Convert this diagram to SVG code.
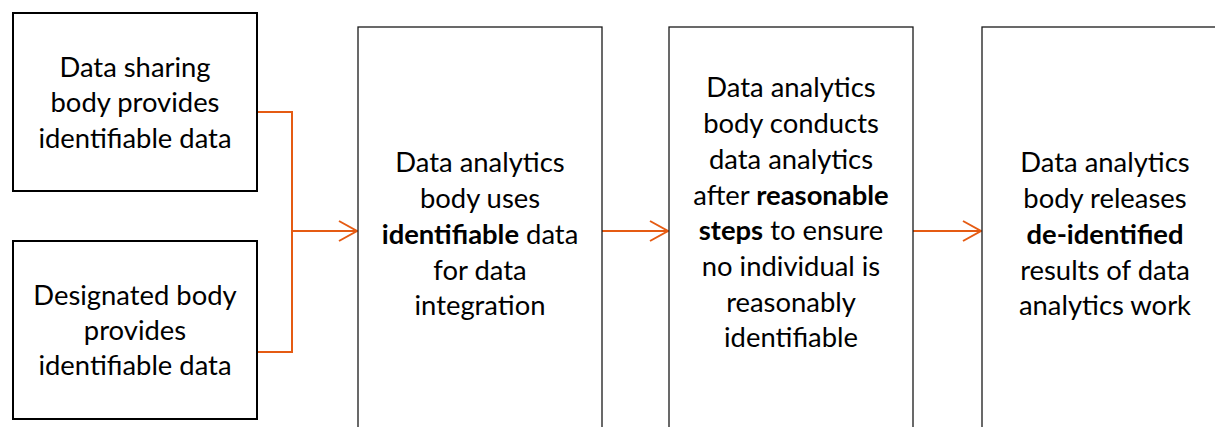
<svg xmlns="http://www.w3.org/2000/svg" width="1215" height="427" viewBox="0 0 1215 427">
<defs>
<style>
.box1{fill:#fff;stroke:#000;stroke-width:2}
.box2{fill:#fff;stroke:#1a1a1a;stroke-width:1.3}
.t{font-family:Lato,"Open Sans",sans-serif;font-size:27.4px;fill:#000;text-anchor:middle}
.b{font-weight:bold}
.c{fill:none;stroke:#E55B13;stroke-width:2}
</style>
<marker id="arr" markerWidth="22" markerHeight="24" refX="19" refY="11" orient="auto" markerUnits="userSpaceOnUse">
<path d="M1,1 L19,11 L1,21" fill="none" stroke="#E55B13" stroke-width="2"/>
</marker>
</defs>
<g id="connectors">
<path class="c" d="M258,112 H292 V352 H258"/>
<path class="c" d="M292,231 H357" marker-end="url(#arr)"/>
<path class="c" d="M602,231 H668" marker-end="url(#arr)"/>
<path class="c" d="M913,231 H981" marker-end="url(#arr)"/>
</g>
<g id="n1">
<rect class="box1" x="13" y="13" width="244" height="178"/>
<text class="t" x="135" y="77">Data sharing</text>
<text class="t" x="135" y="112">body provides</text>
<text class="t" x="135" y="148">identifiable data</text>
</g>
<g id="n2">
<rect class="box1" x="13" y="241" width="244" height="178"/>
<text class="t" x="135" y="305">Designated body</text>
<text class="t" x="135" y="340">provides</text>
<text class="t" x="135" y="375">identifiable data</text>
</g>
<g id="n3">
<rect class="box2" x="358" y="27" width="244" height="410"/>
<text class="t" x="480" y="172">Data analytics</text>
<text class="t" x="480" y="208">body uses</text>
<text class="t" x="480" y="244"><tspan class="b">identifiable</tspan> data</text>
<text class="t" x="480" y="280">for data</text>
<text class="t" x="480" y="315">integration</text>
</g>
<g id="n4">
<rect class="box2" x="669" y="27" width="244" height="410"/>
<text class="t" x="791" y="97">Data analytics</text>
<text class="t" x="791" y="133">body conducts</text>
<text class="t" x="791" y="169">data analytics</text>
<text class="t" x="791" y="205">after <tspan class="b">reasonable</tspan></text>
<text class="t" x="791" y="240"><tspan class="b">steps</tspan> to ensure</text>
<text class="t" x="791" y="276">no individual is</text>
<text class="t" x="791" y="312">reasonably</text>
<text class="t" x="791" y="347">identifiable</text>
</g>
<g id="n5">
<rect class="box2" x="982" y="27" width="250" height="410"/>
<text class="t" x="1105" y="172">Data analytics</text>
<text class="t" x="1105" y="208">body releases</text>
<text class="t b" x="1105" y="244">de-identified</text>
<text class="t" x="1105" y="280">results of data</text>
<text class="t" x="1105" y="315">analytics work</text>
</g>
</svg>
